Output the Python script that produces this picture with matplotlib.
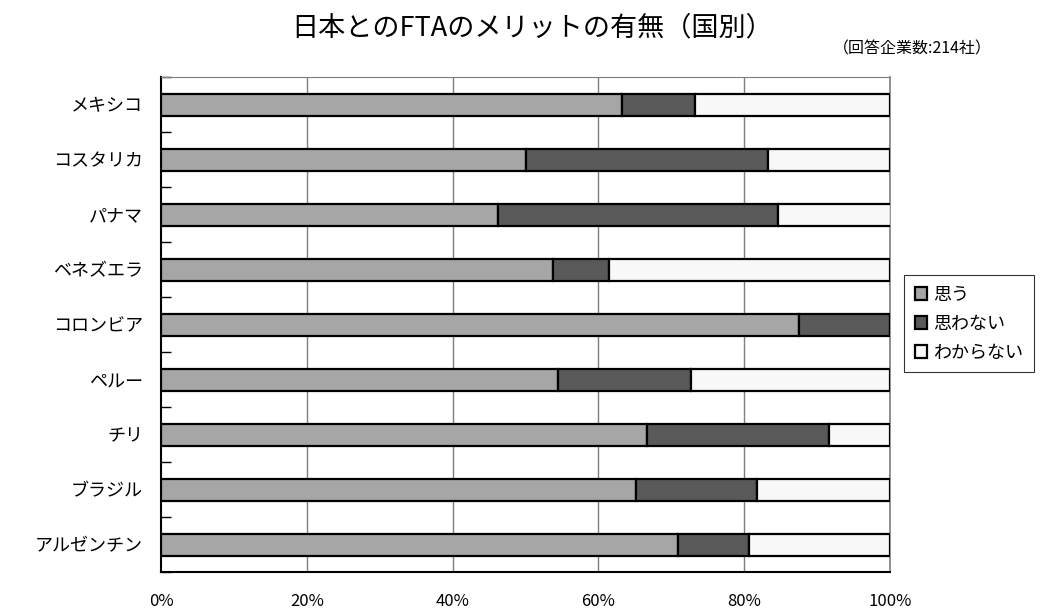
import numpy as np
import matplotlib
matplotlib.use('Agg')
import matplotlib.pyplot as plt

plt.rcParams['font.family'] = ['Noto Sans CJK JP', 'DejaVu Sans']

# data (percent of respondents), top to bottom
countries = ['メキシコ', 'コスタリカ', 'パナマ', 'ベネズエラ', 'コロンビア',
             'ペルー', 'チリ', 'ブラジル', 'アルゼンチン']
yes = [63.3, 50.0, 46.2, 53.8, 87.5, 54.5, 66.7, 65.1, 70.9]
no = [10.0, 33.3, 38.5, 7.7, 12.5, 18.2, 25.0, 16.6, 9.7]
unknown = [26.7, 16.7, 15.4, 38.5, 0.0, 27.3, 8.3, 18.3, 19.4]
series_names = ['思う', '思わない', 'わからない']
colors = ['#a6a6a6', '#595959', '#f8f8f8']
xticks = [0, 20, 40, 60, 80, 100]

fig = plt.figure(figsize=(10.45, 6.14), dpi=100)
ax = fig.add_axes([161/1045, 42/614, 729/1045, 495/614])

y = np.arange(len(countries))
left = np.zeros(len(countries))
for vals, name, c in zip([yes, no, unknown], series_names, colors):
    ax.barh(y, vals, left=left, height=0.4, color=c, edgecolor='black',
            linewidth=1.6, label=name, zorder=3)
    left += np.array(vals)

ax.set_xlim(0, 100)
ax.set_ylim(len(countries) - 0.5, -0.5)

# vertical gridlines
for xv in xticks[1:]:
    ax.axvline(xv, color='#7f7f7f', linewidth=1.0, zorder=1)

ax.set_xticks(xticks)
ax.set_xticklabels([f'{v}%' for v in xticks], fontsize=12)
ax.tick_params(axis='x', length=0, pad=15)

ax.set_yticks(y)
ax.set_yticklabels(countries, fontsize=13)
ax.tick_params(axis='y', which='major', length=0, pad=13)
ax.set_yticks(np.arange(-0.5, len(countries), 1.0), minor=True)
ax.tick_params(axis='y', which='minor', direction='in', length=7,
               width=1.0, color='black')

ax.spines['left'].set_color('black')
ax.spines['left'].set_linewidth(1.5)
ax.spines['bottom'].set_color('black')
ax.spines['bottom'].set_linewidth(1.5)
ax.spines['top'].set_color('#7f7f7f')
ax.spines['right'].set_color('#7f7f7f')
ax.spines['right'].set_linewidth(1.2)

fig.text(532/1045, 1 - 28/614, '日本とのFTAのメリットの有無（国別）',
         fontsize=19.5, ha='center', va='center')
fig.text(992/1045, 1 - 49/614, '（回答企業数:214社）',
         fontsize=11.5, ha='right', va='center')

leg = fig.legend(loc='upper left', bbox_to_anchor=(904/1045, 1 - 275/614),
                 fontsize=13, frameon=True, fancybox=False,
                 handlelength=0.7, handleheight=0.7, handletextpad=0.3,
                 labelspacing=0.6, borderpad=0.6, borderaxespad=0)
leg.get_frame().set_edgecolor('black')
leg.get_frame().set_linewidth(0.8)

fig.savefig('out.png', dpi=100, facecolor='white')
